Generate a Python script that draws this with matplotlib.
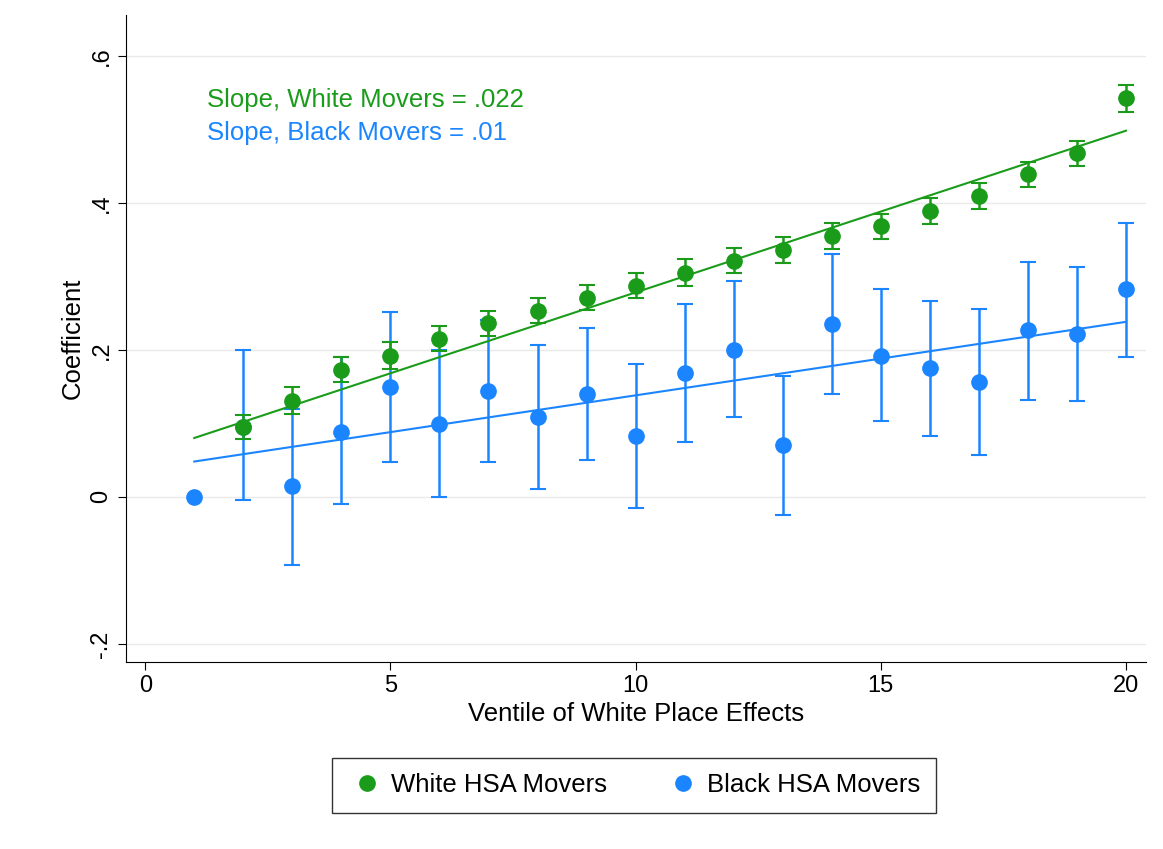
import matplotlib.pyplot as plt
import numpy as np

plt.rcParams['font.family'] = ['Liberation Sans', 'DejaVu Sans']

ventile = np.arange(1, 21)
white_x = ventile[1:]
white_coef = [0.095, 0.131, 0.173, 0.192, 0.215, 0.236, 0.253, 0.271, 0.287, 0.305,
              0.321, 0.336, 0.355, 0.368, 0.389, 0.409, 0.439, 0.467, 0.542]
white_err = [0.016, 0.018, 0.017, 0.018, 0.017, 0.017, 0.017, 0.017, 0.017, 0.018,
             0.017, 0.018, 0.018, 0.017, 0.018, 0.018, 0.017, 0.017, 0.018]
black_coef = [0.0, 0.095, 0.015, 0.088, 0.149, 0.099, 0.144, 0.108, 0.140, 0.083, 0.168,
              0.200, 0.070, 0.235, 0.192, 0.175, 0.156, 0.227, 0.222, 0.282]
black_lo = [0.0, -0.005, -0.093, -0.010, 0.047, 0.000, 0.047, 0.010, 0.050, -0.015, 0.075,
            0.108, -0.025, 0.140, 0.103, 0.083, 0.057, 0.132, 0.130, 0.190]
black_hi = [0.0, 0.200, 0.120, 0.190, 0.252, 0.200, 0.240, 0.206, 0.230, 0.181, 0.262,
            0.293, 0.165, 0.330, 0.282, 0.267, 0.256, 0.320, 0.313, 0.372]
white_fit = (0.080, 0.022)  # value at ventile 1, slope
black_fit = (0.048, 0.010)

green = '#1a9c1a'
blue = '#1a85ff'

fig = plt.figure(figsize=(11.63, 8.49), dpi=100)
ax = fig.add_axes([0.108, 0.22, 0.877, 0.762])

for y in [-0.2, 0, 0.2, 0.4, 0.6]:
    ax.axhline(y, color='#eaeaea', lw=1, zorder=0)

# blue
bc = np.array(black_coef)
ax.errorbar(ventile[1:], bc[1:], yerr=[bc[1:] - np.array(black_lo[1:]), np.array(black_hi[1:]) - bc[1:]],
            fmt='none', ecolor=blue, elinewidth=1.8, capsize=6, capthick=1.5, zorder=2)
ax.plot(ventile, bc, 'o', color=blue, ms=11, zorder=3)
ax.plot(ventile, black_fit[0] + black_fit[1] * (ventile - 1), color=blue, lw=1.5, zorder=2)

# green
ax.errorbar(white_x, white_coef, yerr=white_err, fmt='none', ecolor=green,
            elinewidth=1.8, capsize=6, capthick=1.5, zorder=4)
ax.plot(white_x, white_coef, 'o', color=green, ms=11, zorder=5)
ax.plot(ventile, white_fit[0] + white_fit[1] * (ventile - 1), color=green, lw=1.5, zorder=4)

ax.text(1.25, 0.53, 'Slope, White Movers = .022', color=green, fontsize=18.5)
ax.text(1.25, 0.486, 'Slope, Black Movers = .01', color=blue, fontsize=18.5)

ax.set_xlim(-0.4, 20.4)
ax.set_ylim(-0.225, 0.655)
ax.set_xticks([0, 5, 10, 15, 20])
ax.set_yticks([-0.2, 0, 0.2, 0.4, 0.6])
ax.set_yticklabels(['-.2', '0', '.2', '.4', '.6'], rotation=90, va='center')
ax.tick_params(labelsize=17, length=6)
ax.set_xlabel('Ventile of White Place Effects', fontsize=18.5, labelpad=3)
ax.set_ylabel('Coefficient', fontsize=18.5)
for s in ['top', 'right']:
    ax.spines[s].set_visible(False)

h1, = ax.plot([], [], 'o', color=green, ms=11)
h2, = ax.plot([], [], 'o', color=blue, ms=11)
fig.legend([h1, h2], ['White HSA Movers', 'Black HSA Movers'], loc='center',
           bbox_to_anchor=(0.545, 0.075), ncol=2, fontsize=18.5, fancybox=False,
           edgecolor='black', handletextpad=0.2, handlelength=1.5, columnspacing=2.2,
           borderpad=0.6)

fig.savefig('out.png')
